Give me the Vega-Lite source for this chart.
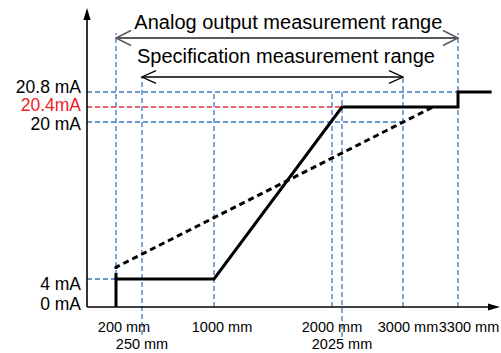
{
  "$schema": "https://vega.github.io/schema/vega-lite/v6.json",
  "width": 414,
  "height": 307,
  "autosize": {"type": "none"},
  "padding": {"left": 87, "top": 0, "right": 0, "bottom": 46},
  "background": "white",
  "config": {"view": {"stroke": null}, "font": "Liberation Sans"},
  "datasets": {
    "solid": [
      {"x": 200, "y": 0, "i": 0},
      {"x": 200, "y": 4, "i": 1},
      {"x": 1000, "y": 4, "i": 2},
      {"x": 2025, "y": 20.4, "i": 3},
      {"x": 3300, "y": 20.4, "i": 4},
      {"x": 3300, "y": 20.8, "i": 5},
      {"x": 3540, "y": 20.8, "i": 6}
    ],
    "dashed": [
      {"x": 200, "y": 4, "i": 0},
      {"x": 200, "y": 5.2, "i": 1},
      {"x": 3164, "y": 20.4, "i": 2}
    ],
    "vlines": [
      {"x": 200, "y": 0, "y2": 23.75},
      {"x": 250, "y": -4, "y2": 21.55},
      {"x": 1000, "y": 0, "y2": 20.8},
      {"x": 2000, "y": 0, "y2": 20.8},
      {"x": 2025, "y": -4.3, "y2": 20.8},
      {"x": 3000, "y": 0, "y2": 21.55},
      {"x": 3300, "y": 0, "y2": 23.75}
    ],
    "hblue": [
      {"x": 0, "x2": 3300, "y": 20.8},
      {"x": 0, "x2": 3000, "y": 20},
      {"x": 0, "x2": 200, "y": 4}
    ],
    "hred": [{"x": 0, "x2": 2025, "y": 20.4}],
    "analog": [{"x": 200, "x2": 3300, "y": 23.5}],
    "spec": [{"x": 250, "x2": 3000, "y": 21.55}],
    "axes": [
      {"x": 0, "x2": 3560, "y": 0, "y2": 0},
      {"x": 0, "x2": 0, "y": 0, "y2": 24.4}
    ],
    "titles": [
      {"x": 1630, "y": 23.95, "label": "Analog output measurement range"},
      {"x": 1610, "y": 22.25, "label": "Specification measurement range"}
    ],
    "ylabA": [{"x": 0, "y": 20.8, "label": "20.8 mA"}],
    "ylabZero": [{"x": 0, "y": 0, "label": "0 mA"}],
    "ylabB": [{"x": 0, "y": 20, "label": "20 mA"}],
    "ylabC": [{"x": 0, "y": 4, "label": "4 mA"}],
    "ylabRed": [{"x": 0, "y": 20.4, "label": "20.4mA"}],
    "xlabShift": [
      {"x": 200, "y": -3.6, "label": "200 mm"},
      {"x": 1000, "y": -3.6, "label": "1000 mm"}
    ],
    "xlab3000": [{"x": 3000, "y": -3.6, "label": "3000 mm"}],
    "xlab3300": [{"x": 3300, "y": -3.6, "label": "3300 mm"}],
    "xlab": [
      {"x": 2000, "y": -3.6, "label": "2000 mm"},
      {"x": 250, "y": -6, "label": "250 mm"},
      {"x": 2025, "y": -6, "label": "2025 mm"}
    ]
  },
  "encoding": {
    "x": {
      "field": "x",
      "type": "quantitative",
      "axis": null,
      "scale": {
        "domain": [0, 200, 250, 1000, 2000, 2025, 3000, 3300, 3600],
        "range": [0, 29, 55, 127, 245, 255, 316, 371, 413],
        "nice": false,
        "zero": false
      }
    },
    "y": {
      "field": "y",
      "type": "quantitative",
      "axis": null,
      "scale": {
        "domain": [-7, 0, 4, 20, 20.4, 20.8, 25],
        "range": [356, 307, 279, 122, 107, 92, 8],
        "nice": false,
        "zero": false
      }
    }
  },
  "layer": [
    {
      "data": {"name": "vlines"},
      "mark": {"type": "rule", "color": "#3a7bc0", "strokeWidth": 1.3, "strokeDash": [5, 3]},
      "encoding": {"y2": {"field": "y2"}}
    },
    {
      "data": {"name": "hblue"},
      "mark": {"type": "rule", "color": "#3a7bc0", "strokeWidth": 1.3, "strokeDash": [5, 3]},
      "encoding": {"x2": {"field": "x2"}}
    },
    {
      "data": {"name": "hred"},
      "mark": {"type": "rule", "color": "#e8303a", "strokeWidth": 1.3, "strokeDash": [5, 3]},
      "encoding": {"x2": {"field": "x2"}}
    },
    {
      "data": {"name": "axes"},
      "mark": {"type": "rule", "color": "black", "strokeWidth": 1.6},
      "encoding": {"x2": {"field": "x2"}, "y2": {"field": "y2"}}
    },
    {
      "data": {"values": [{"x": 0, "y": 25}]},
      "mark": {"type": "point", "shape": "M 0 0 L -0.6 2 L 0.6 2 Z", "size": 144, "filled": true, "color": "black", "opacity": 1}
    },
    {
      "data": {"values": [{"x": 3600, "y": 0}]},
      "mark": {"type": "point", "shape": "M 0 0 L -2 -0.6 L -2 0.6 Z", "size": 144, "filled": true, "color": "black", "opacity": 1}
    },
    {
      "data": {"name": "analog"},
      "mark": {"type": "rule", "color": "#595959", "strokeWidth": 2},
      "encoding": {"x2": {"field": "x2"}}
    },
    {
      "data": {"name": "analog"},
      "mark": {"type": "point", "shape": "M 2 -1 L 0 0 L 2 1", "size": 225, "filled": false, "color": "#595959", "strokeWidth": 1.5, "opacity": 1}
    },
    {
      "data": {"name": "analog"},
      "mark": {"type": "point", "shape": "M -2 -1 L 0 0 L -2 1", "size": 225, "filled": false, "color": "#595959", "strokeWidth": 1.5, "opacity": 1},
      "encoding": {"x": {"field": "x2", "type": "quantitative"}}
    },
    {
      "data": {"name": "spec"},
      "mark": {"type": "rule", "color": "black", "strokeWidth": 1.5},
      "encoding": {"x2": {"field": "x2"}}
    },
    {
      "data": {"name": "spec"},
      "mark": {"type": "point", "shape": "M 2 -0.9 L 0 0 L 2 0.9", "size": 196, "filled": false, "color": "black", "strokeWidth": 1.3, "opacity": 1}
    },
    {
      "data": {"name": "spec"},
      "mark": {"type": "point", "shape": "M -2 -0.9 L 0 0 L -2 0.9", "size": 196, "filled": false, "color": "black", "strokeWidth": 1.3, "opacity": 1},
      "encoding": {"x": {"field": "x2", "type": "quantitative"}}
    },
    {
      "data": {"name": "dashed"},
      "mark": {"type": "line", "color": "black", "strokeWidth": 3, "strokeDash": [6, 4]},
      "encoding": {"order": {"field": "i", "type": "quantitative"}}
    },
    {
      "data": {"name": "solid"},
      "mark": {"type": "line", "color": "black", "strokeWidth": 3, "strokeJoin": "miter"},
      "encoding": {"order": {"field": "i", "type": "quantitative"}}
    },
    {
      "data": {"name": "titles"},
      "mark": {"type": "text", "fontSize": 20, "align": "center", "baseline": "alphabetic", "color": "black"},
      "encoding": {"text": {"field": "label"}}
    },
    {
      "data": {"name": "ylabA"},
      "mark": {"type": "text", "fontSize": 17.5, "align": "right", "baseline": "middle", "dx": -6, "dy": -4.5, "color": "black"},
      "encoding": {"text": {"field": "label"}}
    },
    {
      "data": {"name": "ylabZero"},
      "mark": {"type": "text", "fontSize": 17.5, "align": "right", "baseline": "middle", "dx": -6, "dy": -2, "color": "black"},
      "encoding": {"text": {"field": "label"}}
    },
    {
      "data": {"name": "ylabB"},
      "mark": {"type": "text", "fontSize": 17.5, "align": "right", "baseline": "middle", "dx": -6, "dy": 3, "color": "black"},
      "encoding": {"text": {"field": "label"}}
    },
    {
      "data": {"name": "ylabC"},
      "mark": {"type": "text", "fontSize": 17.5, "align": "right", "baseline": "middle", "dx": -6, "dy": 6, "color": "black"},
      "encoding": {"text": {"field": "label"}}
    },
    {
      "data": {"name": "ylabRed"},
      "mark": {"type": "text", "fontSize": 17.5, "align": "right", "baseline": "middle", "dx": -6, "dy": -1, "color": "#ee1c25"},
      "encoding": {"text": {"field": "label"}}
    },
    {
      "data": {"name": "xlabShift"},
      "mark": {"type": "text", "fontSize": 14.5, "align": "center", "baseline": "alphabetic", "dx": 8, "color": "black"},
      "encoding": {"text": {"field": "label"}}
    },
    {
      "data": {"name": "xlab3000"},
      "mark": {"type": "text", "fontSize": 14.5, "align": "center", "baseline": "alphabetic", "dx": 5, "color": "black"},
      "encoding": {"text": {"field": "label"}}
    },
    {
      "data": {"name": "xlab3300"},
      "mark": {"type": "text", "fontSize": 14.5, "align": "center", "baseline": "alphabetic", "dx": 11, "color": "black"},
      "encoding": {"text": {"field": "label"}}
    },
    {
      "data": {"name": "xlab"},
      "mark": {"type": "text", "fontSize": 14.5, "align": "center", "baseline": "alphabetic", "color": "black"},
      "encoding": {"text": {"field": "label"}}
    }
  ]
}
